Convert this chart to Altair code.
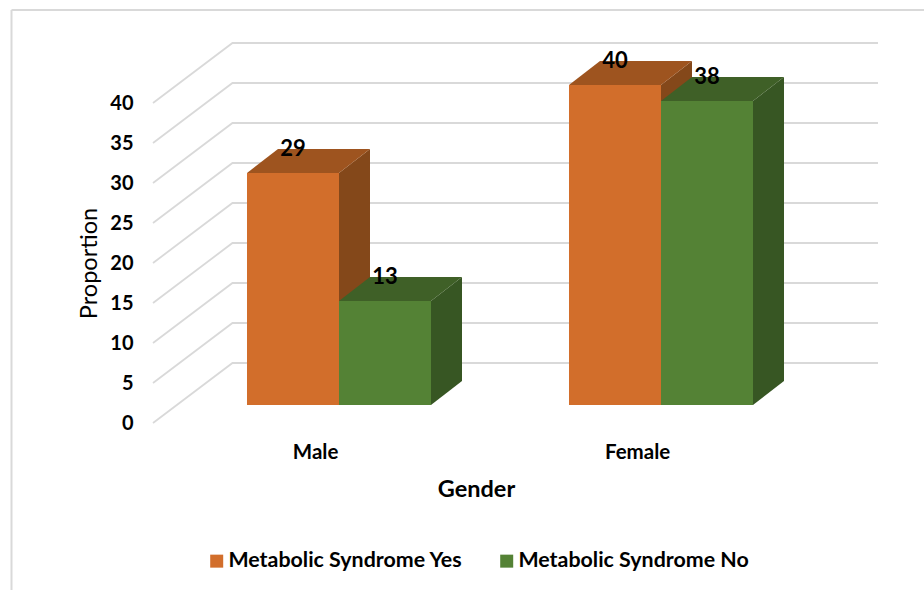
import altair as alt
import pandas as pd

# Values shown on the bars
genders = ["Male", "Female"]
syndrome_yes = [29, 40]
syndrome_no = [13, 38]
series_names = ["Metabolic Syndrome Yes", "Metabolic Syndrome No"]
tick_values = [0, 5, 10, 15, 20, 25, 30, 35, 40]

# Face colours per series: front, top, side
front_colors = ["#D26E2B", "#548235"]
top_colors = ["#9E541F", "#3F6027"]
side_colors = ["#84481A", "#375623"]

# 3D geometry in data units: one x unit is one bar width
group_start = {"Male": 0.0, "Female": 3.5}
depth_x = 0.337
depth_y = 3.0
wall_x = -0.158
wall_y = 5.25
floor_left_x = -1.0217
floor_left_drop = -2.25
grid_right_x = 6.8587
x_domain = [floor_left_x, grid_right_x]
y_domain = [-3, 48]

FONT = "Lato"
GRID = "#d9d9d9"

x_scale = alt.Scale(domain=x_domain, nice=False, zero=False)
y_scale = alt.Scale(domain=y_domain, nice=False, zero=False)

# Wall and floor gridlines
grid_rows = []
for t in tick_values:
    grid_rows += [
        {"tick": t, "x": floor_left_x, "y": t + floor_left_drop},
        {"tick": t, "x": wall_x, "y": t + wall_y},
        {"tick": t, "x": grid_right_x, "y": t + wall_y},
    ]
grid = (
    alt.Chart(pd.DataFrame(grid_rows))
    .mark_line(color=GRID, strokeWidth=1.8)
    .encode(
        x=alt.X(
            "x:Q",
            scale=x_scale,
            axis=alt.Axis(
                values=[0.74, 4.24],
                labelExpr="datum.value < 2 ? 'Male' : 'Female'",
                domain=False,
                ticks=False,
                grid=False,
                labelFont=FONT,
                labelFontWeight="bold",
                labelFontSize=20.5,
                labelColor="#000000",
                labelPadding=23,
                labelBaseline="middle",
                title="Gender",
                titleFont=FONT,
                titleFontWeight="bold",
                titleFontSize=23.5,
                titleColor="#000000",
                titleAnchor="start",
                titleAlign="center",
                titleBaseline="middle",
                titleX=323,
                titleY=60,
            ),
        ),
        y=alt.Y(
            "y:Q",
            scale=y_scale,
            axis=alt.Axis(
                values=tick_values,
                format="d",
                domain=False,
                ticks=False,
                grid=False,
                labelFont=FONT,
                labelFontWeight="bold",
                labelFontSize=20,
                labelColor="#000000",
                labelPadding=20,
                labelOffset=18,
                title="Proportion",
                titleFont=FONT,
                titleFontWeight="normal",
                titleFontSize=23.5,
                titleColor="#000000",
                titleAlign="center",
                titleBaseline="middle",
                titleAngle=270,
                titleX=-64,
                titleY=242,
            ),
        ),
        detail="tick:N",
    )
)

# Build the faces of every bar from its value
front_rows, side_rows, top_rows, label_rows = [], [], [], []
for s, (name, values) in enumerate(zip(series_names, [syndrome_yes, syndrome_no])):
    for gender, v in zip(genders, values):
        x0 = group_start[gender] + s
        x1 = x0 + 1
        key = f"{gender}-{s}"
        front_rows.append({"series": name, "x0": x0, "x1": x1, "y0": 0, "y1": v})
        side_rows += [
            {"s": s, "bar": key, "x": x1, "lo": 0, "hi": v},
            {"s": s, "bar": key, "x": x1 + depth_x, "lo": depth_y, "hi": v + depth_y},
        ]
        top_rows += [
            {"s": s, "bar": key, "x": x0, "lo": v, "hi": v},
            {"s": s, "bar": key, "x": x0 + depth_x, "lo": v, "hi": v + depth_y},
            {"s": s, "bar": key, "x": x1, "lo": v, "hi": v + depth_y},
            {"s": s, "bar": key, "x": x1 + depth_x, "lo": v + depth_y, "hi": v + depth_y},
        ]
        label_rows.append({"x": x0 + 0.5, "value": v})

sides = pd.DataFrame(side_rows)
tops = pd.DataFrame(top_rows)


def face(frame, color):
    return (
        alt.Chart(frame)
        .mark_area(color=color, opacity=1, interpolate="linear")
        .encode(
            x=alt.X("x:Q", scale=x_scale),
            y=alt.Y("lo:Q", scale=y_scale),
            y2="hi:Q",
            detail="bar:N",
        )
    )


depth_layers = []
for s in range(2):
    depth_layers.append(face(sides[sides.s == s], side_colors[s]))
    depth_layers.append(face(tops[tops.s == s], top_colors[s]))

fronts = (
    alt.Chart(pd.DataFrame(front_rows))
    .mark_rect(opacity=1)
    .encode(
        x=alt.X("x0:Q", scale=x_scale),
        x2="x1:Q",
        y=alt.Y("y0:Q", scale=y_scale),
        y2="y1:Q",
        color=alt.Color(
            "series:N",
            scale=alt.Scale(domain=series_names, range=front_colors),
            legend=alt.Legend(
                title=None,
                orient="none",
                direction="horizontal",
                legendX=53,
                legendY=529,
                symbolType="square",
                symbolSize=169,
                symbolStrokeWidth=0,
                symbolOpacity=1,
                labelFont=FONT,
                labelFontWeight="bold",
                labelFontSize=21.4,
                labelColor="#000000",
                labelLimit=400,
                labelOffset=1,
                columnPadding=33,
            ),
        ),
    )
)

labels = (
    alt.Chart(pd.DataFrame(label_rows))
    .mark_text(font=FONT, fontWeight="bold", fontSize=22, color="#000000", dy=-24)
    .encode(
        x=alt.X("x:Q", scale=x_scale),
        y=alt.Y("value:Q", scale=y_scale),
        text="value:Q",
    )
)

# Thin frame along the top and left of the canvas
frame_left = alt.Chart(pd.DataFrame({"a": [0]})).mark_rule(color=GRID, strokeWidth=2).encode(
    x=alt.value(-141.5), y=alt.value(-11), y2=alt.value(569)
)
frame_top = alt.Chart(pd.DataFrame({"a": [0]})).mark_rule(color=GRID, strokeWidth=2).encode(
    x=alt.value(-141.5), x2=alt.value(771), y=alt.value(-11)
)

chart = (
    alt.layer(frame_left, frame_top, grid, *depth_layers, fronts, labels)
    .properties(
        width=725,
        height=408,
        background="#ffffff",
        padding={"left": 153, "top": 21, "right": 46, "bottom": 161},
        autosize=alt.AutoSizeParams(type="none"),
    )
    .configure_view(stroke=None)
)

chart.save("out.html", embed_options={"renderer": "svg", "actions": False})
